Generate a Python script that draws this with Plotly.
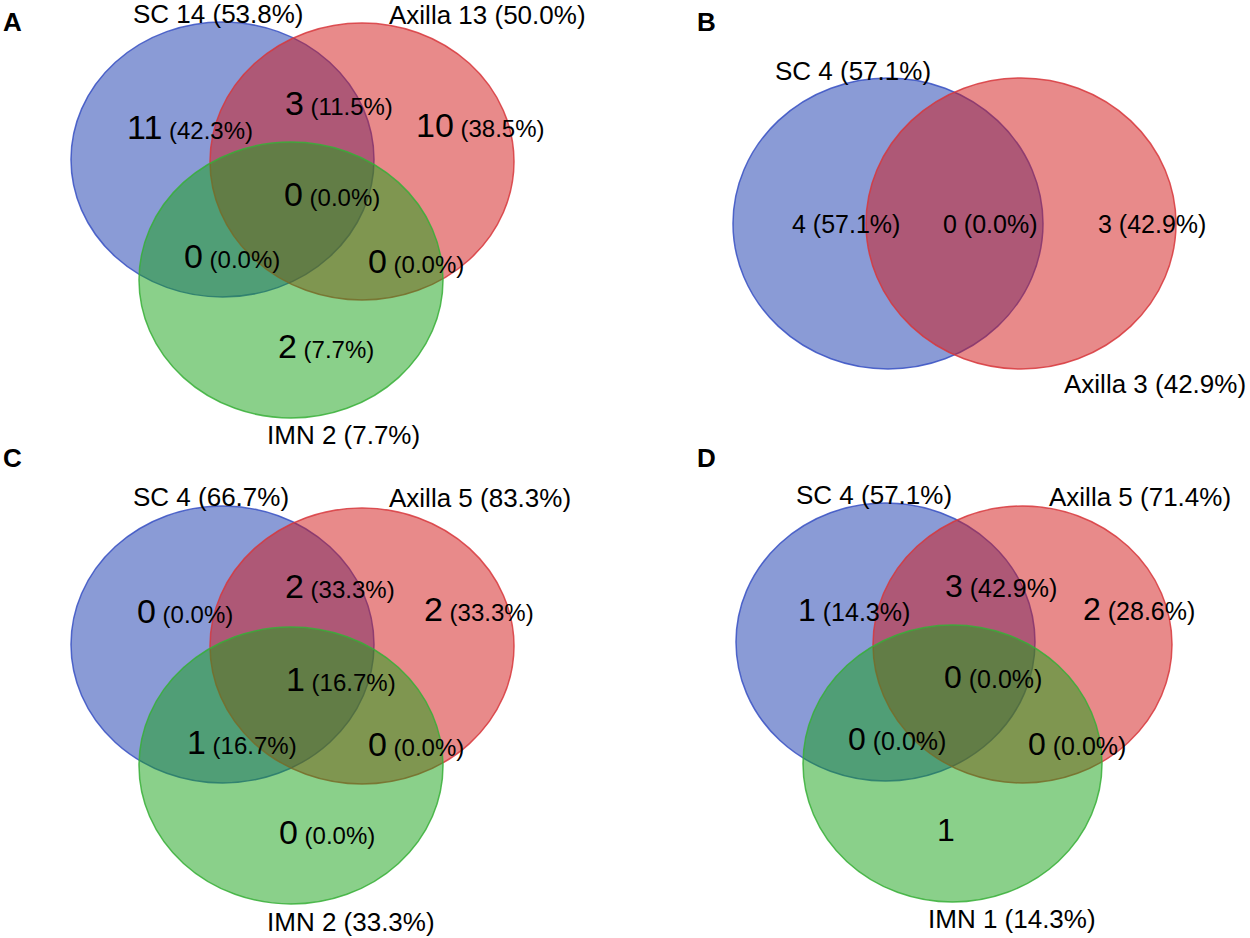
import plotly.graph_objects as go

# ---- data ----
panels = ["A", "B", "C", "D"]

# set totals shown next to each circle
a_sets = ["SC", "Axilla", "IMN"]
a_set_n = [14, 13, 2]
a_set_pct = [53.8, 50.0, 7.7]
b_sets = ["SC", "Axilla"]
b_set_n = [4, 3]
b_set_pct = [57.1, 42.9]
c_sets = ["SC", "Axilla", "IMN"]
c_set_n = [4, 5, 2]
c_set_pct = [66.7, 83.3, 33.3]
d_sets = ["SC", "Axilla", "IMN"]
d_set_n = [4, 5, 1]
d_set_pct = [57.1, 71.4, 14.3]

# region counts: 100 = SC only, 010 = Axilla only, 001 = IMN only, 110 = SC&Axilla ...
regions3 = ["100", "010", "001", "110", "101", "011", "111"]
regions2 = ["10", "01", "11"]
a_reg_n = [11, 10, 2, 3, 0, 0, 0]
a_reg_pct = [42.3, 38.5, 7.7, 11.5, 0.0, 0.0, 0.0]
b_reg_n = [4, 3, 0]
b_reg_pct = [57.1, 42.9, 0.0]
c_reg_n = [0, 2, 0, 2, 1, 0, 1]
c_reg_pct = [0.0, 33.3, 0.0, 33.3, 16.7, 0.0, 16.7]
d_reg_n = [1, 2, 1, 3, 0, 0, 0]
d_reg_pct = [14.3, 28.6, None, 42.9, 0.0, 0.0, 0.0]

# ---- layout (pixel space of the page) ----
fill = ["rgba(21,55,173,0.5)", "rgba(209,21,21,0.5)", "rgba(21,161,21,0.5)"]
edge = ["rgba(55,80,195,0.85)", "rgba(215,55,60,0.85)", "rgba(55,175,55,0.85)"]

geo = {
    "A": dict(letter=(12, 22),
              circles=[(71, 374, 22, 297), (210, 514, 23, 300), (139, 443, 142, 418)],
              labels=[(218, 14), (487, 15), (343, 435)],
              regions={"100": (190, 127), "010": (480, 125), "001": (326, 346),
                       "110": (339, 103), "101": (232, 256), "011": (416, 261),
                       "111": (332, 194)},
              big=34, small=24, lab=26),
    "B": dict(letter=(706, 22),
              circles=[(733, 1043, 78, 369), (866, 1176, 78, 369)],
              labels=[(853, 71), (1155, 384)],
              regions={"10": (846, 224), "01": (1152, 224), "11": (990, 224)},
              big=25, small=25, lab=26),
    "C": dict(letter=(12, 458),
              circles=[(71, 374, 506, 783), (210, 514, 508, 784), (139, 443, 627, 904)],
              labels=[(211, 497), (480, 498), (351, 922)],
              regions={"100": (185, 611), "010": (479, 609), "001": (327, 832),
                       "110": (340, 586), "101": (242, 742), "011": (416, 744),
                       "111": (341, 679)},
              big=34, small=24, lab=26),
    "D": dict(letter=(706, 458),
              circles=[(736, 1035, 503, 781), (873, 1172, 506, 783), (803, 1102, 625, 902)],
              labels=[(874, 495), (1140, 497), (1012, 919)],
              regions={"100": (854, 610), "010": (1139, 609), "001": (946, 830),
                       "110": (1001, 586), "101": (897, 739), "011": (1077, 744),
                       "111": (993, 677)},
              big=32, small=25, lab=26),
}

data = {
    "A": (a_sets, a_set_n, a_set_pct, regions3, a_reg_n, a_reg_pct),
    "B": (b_sets, b_set_n, b_set_pct, regions2, b_reg_n, b_reg_pct),
    "C": (c_sets, c_set_n, c_set_pct, regions3, c_reg_n, c_reg_pct),
    "D": (d_sets, d_set_n, d_set_pct, regions3, d_reg_n, d_reg_pct),
}

FONT = "Liberation Sans, Arial, sans-serif"

fig = go.Figure()
shapes = []
annotations = []

for p in panels:
    g = geo[p]
    sets, set_n, set_pct, regs, reg_n, reg_pct = data[p]

    annotations.append(dict(x=g["letter"][0], y=g["letter"][1], text="<b>%s</b>" % p,
                            showarrow=False, xanchor="center", yanchor="middle",
                            font=dict(size=26, color="black", family=FONT)))

    for i, (x0, x1, y0, y1) in enumerate(g["circles"]):
        shapes.append(dict(type="circle", xref="x", yref="y", x0=x0, x1=x1, y0=y0, y1=y1,
                           fillcolor=fill[i], line=dict(color=edge[i], width=1.5),
                           layer="above"))

    for i, name in enumerate(sets):
        lx, ly = g["labels"][i]
        annotations.append(dict(x=lx, y=ly, text="%s %d (%.1f%%)" % (name, set_n[i], set_pct[i]),
                                showarrow=False, xanchor="center", yanchor="middle",
                                font=dict(size=g["lab"], color="black", family=FONT)))

    for r, n, pc in zip(regs, reg_n, reg_pct):
        rx, ry = g["regions"][r]
        txt = "<span style='font-size:%dpx'>%d</span>" % (g["big"], n)
        if pc is not None:
            txt += " (%.1f%%)" % pc
        annotations.append(dict(x=rx, y=ry, text=txt, showarrow=False,
                                xanchor="center", yanchor="middle",
                                font=dict(size=g["small"], color="black", family=FONT)))

fig.update_layout(
    width=1250, height=938,
    margin=dict(l=0, r=0, t=0, b=0),
    paper_bgcolor="white", plot_bgcolor="white",
    xaxis=dict(range=[0, 1250], visible=False, fixedrange=True),
    yaxis=dict(range=[938, 0], visible=False, fixedrange=True),
    shapes=shapes, annotations=annotations,
    showlegend=False,
)

# drop the default page margin so the figure sits at the window's corner
fig.write_html("out.html", post_script="document.body.style.margin='0px';",
               config={"displayModeBar": False})
